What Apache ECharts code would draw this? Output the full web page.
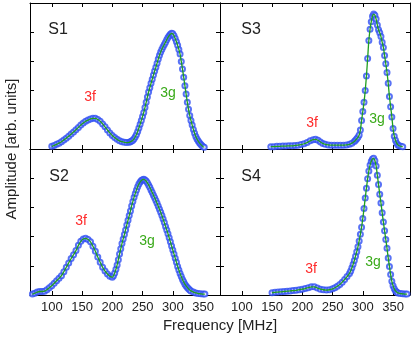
<!DOCTYPE html>
<html>
<head>
<meta charset="utf-8">
<script src="https://cdn.jsdelivr.net/npm/echarts@6/dist/echarts.min.js"></script>
<style>
html, body { margin: 0; padding: 0; background: #fff; }
#chart { width: 415px; height: 339px; }
</style>
</head>
<body>
<div id="chart"></div>
<script>
// x tick values shared by all panels
const freqTicks = [100, 150, 200, 250, 300, 350];

// S1
const s1Freq = [100, 104, 108, 112, 116, 120, 124, 128, 132, 136, 140, 144, 148, 152, 156, 160, 164, 168, 172, 176,
  180, 184, 188, 192, 196, 200, 204, 208, 212, 216, 220, 224, 228, 230, 232, 234, 236, 238, 240, 242, 244, 246, 248,
  250, 252, 254, 256, 258, 260, 262, 264, 266, 268, 270, 272, 274, 276, 278, 280, 282, 284, 286, 288, 290, 292, 294,
  296, 298, 300, 302, 304, 306, 308, 310, 312, 314, 316, 318, 320, 322, 324, 326, 328, 330, 332, 334, 336, 338, 340,
  342, 344, 346, 348, 350, 352];
const s1Amp = [0.09, 0.12, 0.16, 0.2, 0.25, 0.31, 0.37, 0.44, 0.51, 0.58, 0.66, 0.74, 0.82, 0.89, 0.95, 0.99, 1.03, 1.05, 1.05, 1.01,
  0.95, 0.86, 0.76, 0.65, 0.55, 0.46, 0.39, 0.33, 0.28, 0.25, 0.23, 0.22, 0.23, 0.25, 0.27, 0.3, 0.35, 0.42, 0.5, 0.6, 0.72, 0.85, 0.98,
  1.11, 1.25, 1.42, 1.6, 1.78, 1.95, 2.1, 2.25, 2.39, 2.53, 2.67, 2.8, 2.94, 3.08, 3.21, 3.32, 3.42, 3.5, 3.58, 3.66, 3.74, 3.82, 3.88,
  3.93, 3.96, 3.95, 3.88, 3.78, 3.67, 3.55, 3.41, 3.25, 3.0, 2.74, 2.46, 2.17, 1.88, 1.6, 1.36, 1.15, 0.98, 0.82, 0.67, 0.54, 0.43, 0.34,
  0.27, 0.21, 0.16, 0.12, 0.08, 0.06];

// S2
const s2Freq = [68, 72, 76, 80, 84, 88, 92, 96, 100, 104, 108, 112, 116, 120, 124, 128, 132, 136, 140, 144, 148, 152, 156, 160,
  164, 168, 172, 176, 180, 184, 188, 192, 196, 200, 202, 204, 206, 208, 210, 212, 214, 216, 218, 220, 222, 224, 226, 228, 230,
  232, 234, 236, 238, 240, 242, 244, 246, 248, 250, 252, 254, 256, 258, 260, 262, 264, 266, 268, 270, 272, 274, 276, 278, 280,
  282, 284, 286, 288, 290, 292, 294, 296, 298, 300, 302, 304, 306, 308, 310, 312, 314, 316, 318, 320, 322, 324, 326, 328, 330,
  334, 338, 342, 346, 350, 353];
const s2Amp = [0.03, 0.06, 0.1, 0.12, 0.12, 0.13, 0.18, 0.25, 0.32, 0.4, 0.49, 0.57, 0.66, 0.8, 0.95, 1.1, 1.25, 1.38, 1.52, 1.7, 1.84, 1.92, 1.94, 1.9,
  1.82, 1.67, 1.5, 1.3, 1.12, 0.95, 0.82, 0.72, 0.64, 0.61, 0.66, 0.75, 0.88, 1.03, 1.21, 1.4, 1.58, 1.76, 1.92, 2.07, 2.23, 2.4, 2.56, 2.72, 2.88,
  3.05, 3.2, 3.35, 3.48, 3.6, 3.71, 3.8, 3.87, 3.92, 3.95, 3.96, 3.94, 3.9, 3.84, 3.77, 3.69, 3.6, 3.51, 3.42, 3.33, 3.24, 3.14, 3.04, 2.94, 2.83,
  2.72, 2.6, 2.48, 2.35, 2.23, 2.1, 1.96, 1.82, 1.68, 1.54, 1.4, 1.26, 1.12, 0.98, 0.86, 0.74, 0.63, 0.53, 0.45, 0.37, 0.31, 0.26, 0.21, 0.17, 0.14,
  0.1, 0.07, 0.05, 0.04, 0.03, 0.03];

// S3
const s3Freq = [148, 153, 158, 163, 168, 173, 178, 183, 188, 193, 198, 203, 208, 213, 218, 222, 226, 230, 234, 238, 243, 248,
  253, 258, 263, 268, 273, 278, 282, 286, 288, 290, 292, 294, 296, 298, 300, 302, 304, 306, 308, 310, 312, 314, 316, 318, 320,
  322, 324, 326, 328, 330, 332, 334, 336, 338, 340, 342, 344, 346, 348, 350, 352, 354, 356, 358, 360, 363, 366];
const s3Amp = [0.08, 0.08, 0.09, 0.09, 0.1, 0.1, 0.11, 0.11, 0.12, 0.13, 0.15, 0.18, 0.22, 0.28, 0.32, 0.33, 0.3, 0.24, 0.19, 0.16, 0.14, 0.13,
  0.13, 0.13, 0.13, 0.13, 0.14, 0.16, 0.2, 0.26, 0.3, 0.35, 0.4, 0.48, 0.65, 0.98, 1.28, 1.6, 2.0, 2.5, 3.1, 3.72, 4.1, 4.36, 4.55, 4.62, 4.58,
  4.45, 4.25, 4.08, 3.98, 3.85, 3.66, 3.48, 3.2, 2.92, 2.62, 2.25, 1.8, 1.45, 1.1, 0.7, 0.44, 0.3, 0.2, 0.14, 0.11, 0.09, 0.08];

// S4
const s4Freq = [150, 155, 160, 165, 170, 175, 180, 185, 190, 195, 200, 205, 210, 215, 220, 225, 230, 235, 240, 245, 250, 254,
  258, 262, 266, 270, 274, 278, 280, 282, 284, 286, 288, 290, 292, 294, 296, 298, 300, 302, 304, 306, 308, 310, 312, 314, 316,
  318, 320, 322, 324, 326, 328, 330, 332, 334, 336, 338, 340, 342, 344, 346, 348, 350, 352, 354, 356, 358, 362, 366, 370, 373];
const s4Amp = [0.08, 0.09, 0.1, 0.11, 0.12, 0.13, 0.14, 0.15, 0.16, 0.18, 0.2, 0.22, 0.25, 0.28, 0.28, 0.24, 0.2, 0.18, 0.17, 0.18, 0.21, 0.25,
  0.3, 0.36, 0.44, 0.53, 0.63, 0.74, 0.82, 0.93, 1.05, 1.18, 1.33, 1.48, 1.65, 1.85, 2.08, 2.32, 2.62, 2.96, 3.32, 3.66, 3.98, 4.25, 4.45, 4.58, 4.66,
  4.68, 4.6, 4.42, 4.1, 3.78, 3.45, 3.15, 2.82, 2.5, 2.2, 1.9, 1.6, 1.27, 0.98, 0.7, 0.47, 0.32, 0.21, 0.14, 0.1, 0.07, 0.05, 0.04, 0.03, 0.03];

const panels = [
  {name: 'S1', freq: s1Freq, amp: s1Amp, grid: {left: 30, top: 3}, bottomLabels: false},
  {name: 'S3', freq: s3Freq, amp: s3Amp, grid: {left: 220, top: 3}, bottomLabels: false},
  {name: 'S2', freq: s2Freq, amp: s2Amp, grid: {left: 30, top: 149}, bottomLabels: true},
  {name: 'S4', freq: s4Freq, amp: s4Amp, grid: {left: 220, top: 149}, bottomLabels: true}
];

const font = 'Liberation Sans, Arial, sans-serif';
const axisLine = {show: true, onZero: false, lineStyle: {color: '#000', width: 1}};
const tick = {show: true, inside: true, length: 4, lineStyle: {color: '#000'}};

const grid = [], xAxis = [], yAxis = [], series = [];
panels.forEach((p, i) => {
  grid.push({left: p.grid.left, top: p.grid.top, width: 190, height: 146});
  const xBase = {
    type: 'value', gridIndex: i, min: 64, max: 378,
    axisLine: axisLine, splitLine: {show: false},
    axisTick: Object.assign({customValues: freqTicks}, tick)
  };
  xAxis.push(Object.assign({}, xBase, {
    position: 'bottom',
    axisLabel: {show: p.bottomLabels, customValues: freqTicks, fontSize: 13, color: '#222', fontFamily: font, margin: 6}
  }));
  xAxis.push(Object.assign({}, xBase, {position: 'top', axisLabel: {show: false}}));
  const yBase = {
    type: 'value', gridIndex: i, min: 0, max: 5, interval: 1,
    axisLine: axisLine, splitLine: {show: false}, axisTick: tick, axisLabel: {show: false}
  };
  yAxis.push(Object.assign({}, yBase, {position: 'left'}));
  yAxis.push(Object.assign({}, yBase, {position: 'right'}));

  const pts = p.freq.map((f, k) => [f, p.amp[k]]);
  series.push({
    type: 'scatter', xAxisIndex: 2 * i, yAxisIndex: 2 * i, data: pts,
    symbol: 'emptyCircle', symbolSize: 5,
    itemStyle: {color: '#2f4ff2', borderWidth: 1.2},
    silent: true, animation: false
  });
  series.push({
    type: 'line', xAxisIndex: 2 * i, yAxisIndex: 2 * i, data: pts,
    showSymbol: false, smooth: 0.3,
    lineStyle: {color: '#1f9e1f', width: 1.3}, z: 5,
    silent: true, animation: false
  });
});

const txt = (x, y, text, size, color, extra) => Object.assign({
  type: 'text', x: x, y: y,
  style: {text: text, font: size + 'px ' + font, fill: color, textAlign: 'center', textVerticalAlign: 'middle'}
}, extra || {});

const graphic = [
  txt(58, 30, 'S1', 16, '#222'), txt(251, 30, 'S3', 16, '#222'),
  txt(59, 177, 'S2', 16, '#222'), txt(251, 177, 'S4', 16, '#222'),
  txt(90, 97, '3f', 14, '#ff2a2a'), txt(168, 93, '3g', 14, '#3aaa1a'),
  txt(312, 123, '3f', 14, '#ff2a2a'), txt(377, 119, '3g', 14, '#3aaa1a'),
  txt(81, 221, '3f', 14, '#ff2a2a'), txt(147, 241, '3g', 14, '#3aaa1a'),
  txt(311, 269, '3f', 14, '#ff2a2a'), txt(373, 262, '3g', 14, '#3aaa1a'),
  txt(220, 326, 'Frequency [MHz]', 15, '#222'),
  txt(12, 149, 'Amplitude [arb. units]', 15, '#222', {rotation: Math.PI / 2})
];

const chart = echarts.init(document.getElementById('chart'), null, {renderer: 'canvas'});
chart.setOption({
  animation: false,
  grid: grid,
  xAxis: xAxis,
  yAxis: yAxis,
  series: series,
  graphic: graphic
});
</script>
</body>
</html>
